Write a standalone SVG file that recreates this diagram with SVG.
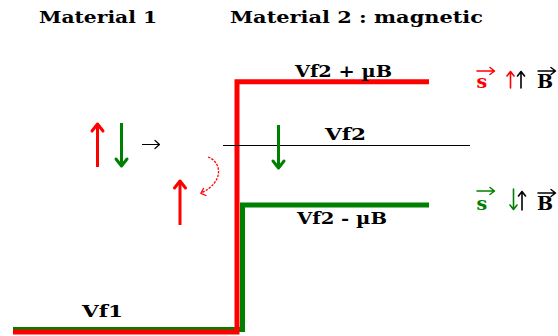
<svg xmlns="http://www.w3.org/2000/svg" width="558" height="336" viewBox="0 0 558 336">
<style>
.t{font-family:"DejaVu Serif","Liberation Serif",serif;font-weight:bold;fill:#000}
.ttl{font-size:17.5px}
.lbl{font-size:16px}
.sym{font-family:"DejaVu Serif","Liberation Serif",serif;font-weight:bold;font-size:19px}
.red{fill:#ff0000}
.grn{fill:#008000}
.ln{fill:none;stroke-linejoin:miter;stroke-linecap:butt}
.hd{fill:none;stroke-linecap:round;stroke-linejoin:round}
</style>
<rect width="558" height="336" fill="#fff"/>
<g id="titles">
<text class="t ttl" x="39" y="23" textLength="118" lengthAdjust="spacingAndGlyphs">Material 1</text>
<text class="t ttl" x="230" y="23" textLength="253" lengthAdjust="spacingAndGlyphs">Material 2 : magnetic</text>
</g>
<g id="connectors">
<path class="ln" d="M13 329.5 H242.5 V205 H429" stroke="#008000" stroke-width="5"/>
<path class="ln" d="M13 332 H237 V81.7 H429" stroke="#ff0000" stroke-width="5"/>
<path class="ln" d="M223 145.5 H470" stroke="#000" stroke-width="1"/>
</g>
<g id="level-vf2-plus">
<text class="t lbl" x="295" y="77" textLength="97" lengthAdjust="spacingAndGlyphs">Vf2 + µB</text>
</g>
<g id="level-vf2">
<text class="t lbl" x="325" y="140" textLength="41" lengthAdjust="spacingAndGlyphs">Vf2</text>
</g>
<g id="level-vf2-minus">
<text class="t lbl" x="297" y="224" textLength="90" lengthAdjust="spacingAndGlyphs">Vf2 - µB</text>
</g>
<g id="level-vf1">
<text class="t lbl" x="82" y="317" textLength="41" lengthAdjust="spacingAndGlyphs">Vf1</text>
</g>
<g id="spins-left">
<path class="ln" d="M97.5 167 V125" stroke="#ff0000" stroke-width="3"/>
<path class="hd" d="M92 131 L97.5 124 L103 131" stroke="#ff0000" stroke-width="3"/>
<path class="ln" d="M121.5 123 V165" stroke="#008000" stroke-width="3"/>
<path class="hd" d="M116 159 L121.5 166 L127 159" stroke="#008000" stroke-width="3"/>
<path class="ln" d="M142 144.5 H159" stroke="#000" stroke-width="1"/>
<path class="hd" d="M155 140.5 L159.5 144.5 L155 148.5" stroke="#000" stroke-width="1.2"/>
</g>
<g id="spin-flip">
<path class="ln" d="M180 225 V182" stroke="#ff0000" stroke-width="3"/>
<path class="hd" d="M174.5 188 L180 181 L185.5 188" stroke="#ff0000" stroke-width="3"/>
<path class="ln" d="M208 157 C222 162 224 182 202 192.5" stroke="#ff0000" stroke-width="1.3" stroke-dasharray="2.5 1.2"/>
<path class="hd" d="M203.5 188.5 L200.8 193.3 L206 195.5" stroke="#ff0000" stroke-width="1.3"/>
<path class="ln" d="M278.5 125 V167" stroke="#008000" stroke-width="3"/>
<path class="hd" d="M273 161 L278.5 168 L284 161" stroke="#008000" stroke-width="3"/>
</g>
<g id="relation-parallel">
<text class="sym red" x="476.5" y="88">s</text>
<path class="hd" d="M477 71 H494 M490 67.5 L494.5 71 L490 74.5" stroke="#ff0000" stroke-width="1.5"/>
<path class="hd" d="M510.5 88 V72 M507 76 L510.5 71.5 L514 76" stroke="#ff0000" stroke-width="1.6"/>
<path class="hd" d="M521 88 V72 M517.5 76 L521 71.5 L524.5 76" stroke="#000" stroke-width="1.6"/>
<text class="sym" x="537" y="88">B</text>
<path class="hd" d="M538 71 H555 M551 67.5 L555.5 71 L551 74.5" stroke="#000" stroke-width="1.5"/>
</g>
<g id="relation-antiparallel">
<text class="sym grn" x="476.5" y="210">s</text>
<path class="hd" d="M477 191 H494 M490 187.5 L494.5 191 L490 194.5" stroke="#008000" stroke-width="1.5"/>
<path class="hd" d="M513.5 189 V209 M510 205 L513.5 209.5 L517 205" stroke="#008000" stroke-width="1.6"/>
<path class="hd" d="M522 210 V192 M518.5 196 L522 191.5 L525.5 196" stroke="#000" stroke-width="1.6"/>
<text class="sym" x="537" y="210">B</text>
<path class="hd" d="M538 193 H555 M551 189.5 L555.5 193 L551 196.5" stroke="#000" stroke-width="1.5"/>
</g>
</svg>
